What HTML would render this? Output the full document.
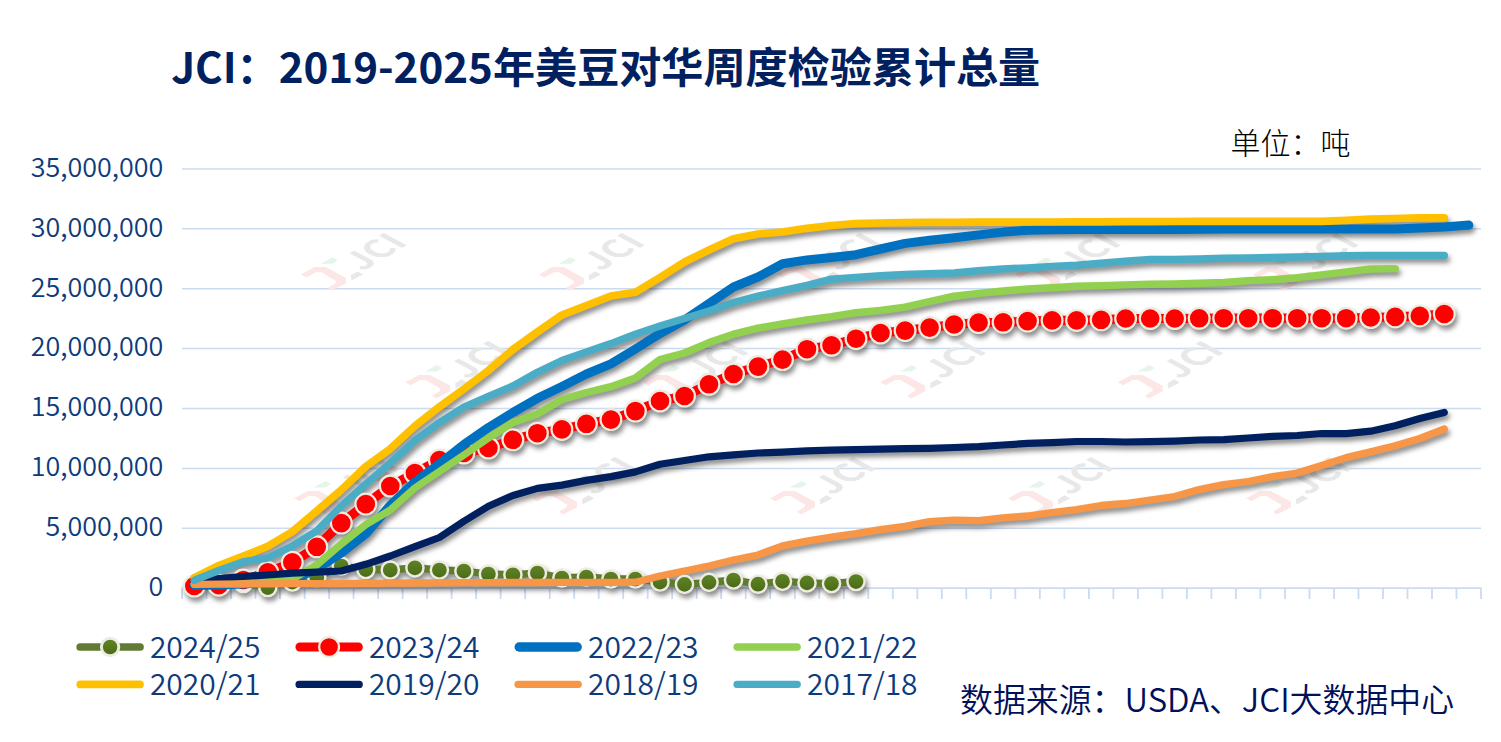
<!DOCTYPE html>
<html><head><meta charset="utf-8"><title>JCI：2019-2025年美豆对华周度检验累计总量</title>
<style>
html,body{margin:0;padding:0;background:#fff;}
body{width:1501px;height:742px;overflow:hidden;position:relative;}
svg{position:absolute;left:0;top:0;display:block;}
.f{font-family:"Liberation Sans","Noto Sans CJK SC",sans-serif;}
.c{font-family:"Noto Sans CJK SC","Liberation Sans",sans-serif;}
</style></head><body>
<svg width="1501" height="742" viewBox="0 0 1501 742">
<defs>
<filter id="so" filterUnits="userSpaceOnUse" x="0" y="0" width="1501" height="742">
<feGaussianBlur in="SourceAlpha" stdDeviation="2.8"/>
<feOffset dx="1.5" dy="4" result="b"/>
<feFlood flood-color="#000" flood-opacity="0.45"/>
<feComposite in2="b" operator="in"/>
</filter>
<linearGradient id="og" x1="0" y1="0" x2="0" y2="1">
<stop offset="0" stop-color="#5f8526"/><stop offset="1" stop-color="#4a6a17"/>
</linearGradient>
</defs>
<rect width="1501" height="742" fill="#fff"/>

<line x1="182" y1="168.9" x2="1481" y2="168.9" stroke="#cbdbf0" stroke-width="1.5"/>
<line x1="182" y1="228.8" x2="1481" y2="228.8" stroke="#cbdbf0" stroke-width="1.5"/>
<line x1="182" y1="288.7" x2="1481" y2="288.7" stroke="#cbdbf0" stroke-width="1.5"/>
<line x1="182" y1="348.6" x2="1481" y2="348.6" stroke="#cbdbf0" stroke-width="1.5"/>
<line x1="182" y1="408.5" x2="1481" y2="408.5" stroke="#cbdbf0" stroke-width="1.5"/>
<line x1="182" y1="468.4" x2="1481" y2="468.4" stroke="#cbdbf0" stroke-width="1.5"/>
<line x1="182" y1="528.3" x2="1481" y2="528.3" stroke="#cbdbf0" stroke-width="1.5"/>
<line x1="182" y1="588.2" x2="1481.5" y2="588.2" stroke="#cbdbf0" stroke-width="1.8"/>
<path d="M182.0 588.2V599 M206.5 588.2V599 M231.0 588.2V599 M255.5 588.2V599 M280.0 588.2V599 M304.6 588.2V599 M329.1 588.2V599 M353.6 588.2V599 M378.1 588.2V599 M402.6 588.2V599 M427.1 588.2V599 M451.6 588.2V599 M476.1 588.2V599 M500.6 588.2V599 M525.1 588.2V599 M549.7 588.2V599 M574.2 588.2V599 M598.7 588.2V599 M623.2 588.2V599 M647.7 588.2V599 M672.2 588.2V599 M696.7 588.2V599 M721.2 588.2V599 M745.7 588.2V599 M770.2 588.2V599 M794.8 588.2V599 M819.3 588.2V599 M843.8 588.2V599 M868.3 588.2V599 M892.8 588.2V599 M917.3 588.2V599 M941.8 588.2V599 M966.3 588.2V599 M990.8 588.2V599 M1015.3 588.2V599 M1039.8 588.2V599 M1064.4 588.2V599 M1088.9 588.2V599 M1113.4 588.2V599 M1137.9 588.2V599 M1162.4 588.2V599 M1186.9 588.2V599 M1211.4 588.2V599 M1235.9 588.2V599 M1260.4 588.2V599 M1285.0 588.2V599 M1309.5 588.2V599 M1334.0 588.2V599 M1358.5 588.2V599 M1383.0 588.2V599 M1407.5 588.2V599 M1432.0 588.2V599 M1456.5 588.2V599 M1481.0 588.2V599" stroke="#cbdbf0" stroke-width="1.8" fill="none"/>
<g><polygon points="301.0,274.4 314.5,267.0 325.7,267.0 345.9,277.9 345.9,283.4 331.9,290.6 327.9,287.9 335.9,282.9 335.9,280.9 321.4,272.2 315.9,272.2 306.2,277.4" fill="#fde6e6"/><polygon points="320.7,263.7 332.4,257.2 337.9,260.2 332.4,263.7" fill="#e6f5ec"/><polygon points="350.9,275.3 357.4,271.4 363.1,274.5 351.3,280.6" fill="#e8e8e8"/><text transform="matrix(0.856,-0.516,0.88,0.47,362.6,271.6)" class="c" font-size="35" font-weight="bold" fill="#e8e8e8">JCI</text><polygon points="539.0,274.4 552.5,267.0 563.7,267.0 583.9,277.9 583.9,283.4 569.9,290.6 565.9,287.9 573.9,282.9 573.9,280.9 559.4,272.2 553.9,272.2 544.2,277.4" fill="#fde6e6"/><polygon points="558.7,263.7 570.4,257.2 575.9,260.2 570.4,263.7" fill="#e6f5ec"/><polygon points="588.9,275.3 595.4,271.4 601.1,274.5 589.3,280.6" fill="#e8e8e8"/><text transform="matrix(0.856,-0.516,0.88,0.47,600.6,271.6)" class="c" font-size="35" font-weight="bold" fill="#e8e8e8">JCI</text><polygon points="777.0,274.4 790.5,267.0 801.7,267.0 821.9,277.9 821.9,283.4 807.9,290.6 803.9,287.9 811.9,282.9 811.9,280.9 797.4,272.2 791.9,272.2 782.2,277.4" fill="#fde6e6"/><polygon points="796.7,263.7 808.4,257.2 813.9,260.2 808.4,263.7" fill="#e6f5ec"/><polygon points="826.9,275.3 833.4,271.4 839.1,274.5 827.3,280.6" fill="#e8e8e8"/><text transform="matrix(0.856,-0.516,0.88,0.47,838.6,271.6)" class="c" font-size="35" font-weight="bold" fill="#e8e8e8">JCI</text><polygon points="1015.0,274.4 1028.5,267.0 1039.7,267.0 1059.9,277.9 1059.9,283.4 1045.9,290.6 1041.9,287.9 1049.9,282.9 1049.9,280.9 1035.4,272.2 1029.9,272.2 1020.2,277.4" fill="#fde6e6"/><polygon points="1034.7,263.7 1046.4,257.2 1051.9,260.2 1046.4,263.7" fill="#e6f5ec"/><polygon points="1064.9,275.3 1071.4,271.4 1077.1,274.5 1065.3,280.6" fill="#e8e8e8"/><text transform="matrix(0.856,-0.516,0.88,0.47,1076.6,271.6)" class="c" font-size="35" font-weight="bold" fill="#e8e8e8">JCI</text><polygon points="1253.0,274.4 1266.5,267.0 1277.7,267.0 1297.9,277.9 1297.9,283.4 1283.9,290.6 1279.9,287.9 1287.9,282.9 1287.9,280.9 1273.4,272.2 1267.9,272.2 1258.2,277.4" fill="#fde6e6"/><polygon points="1272.7,263.7 1284.4,257.2 1289.9,260.2 1284.4,263.7" fill="#e6f5ec"/><polygon points="1302.9,275.3 1309.4,271.4 1315.1,274.5 1303.3,280.6" fill="#e8e8e8"/><text transform="matrix(0.856,-0.516,0.88,0.47,1314.6,271.6)" class="c" font-size="35" font-weight="bold" fill="#e8e8e8">JCI</text><polygon points="405.3,382.3 418.8,374.9 430.0,374.9 450.2,385.8 450.2,391.3 436.2,398.5 432.2,395.8 440.2,390.8 440.2,388.8 425.7,380.1 420.2,380.1 410.5,385.3" fill="#fde6e6"/><polygon points="425.0,371.6 436.7,365.1 442.2,368.1 436.7,371.6" fill="#e6f5ec"/><polygon points="455.2,383.2 461.7,379.3 467.4,382.4 455.6,388.5" fill="#e8e8e8"/><text transform="matrix(0.856,-0.516,0.88,0.47,466.9,379.5)" class="c" font-size="35" font-weight="bold" fill="#e8e8e8">JCI</text><polygon points="642.8,382.3 656.3,374.9 667.5,374.9 687.7,385.8 687.7,391.3 673.7,398.5 669.7,395.8 677.7,390.8 677.7,388.8 663.2,380.1 657.7,380.1 648.0,385.3" fill="#fde6e6"/><polygon points="662.5,371.6 674.2,365.1 679.7,368.1 674.2,371.6" fill="#e6f5ec"/><polygon points="692.7,383.2 699.2,379.3 704.9,382.4 693.1,388.5" fill="#e8e8e8"/><text transform="matrix(0.856,-0.516,0.88,0.47,704.4,379.5)" class="c" font-size="35" font-weight="bold" fill="#e8e8e8">JCI</text><polygon points="880.3,382.3 893.8,374.9 905.0,374.9 925.2,385.8 925.2,391.3 911.2,398.5 907.2,395.8 915.2,390.8 915.2,388.8 900.7,380.1 895.2,380.1 885.5,385.3" fill="#fde6e6"/><polygon points="900.0,371.6 911.7,365.1 917.2,368.1 911.7,371.6" fill="#e6f5ec"/><polygon points="930.2,383.2 936.7,379.3 942.4,382.4 930.6,388.5" fill="#e8e8e8"/><text transform="matrix(0.856,-0.516,0.88,0.47,941.9,379.5)" class="c" font-size="35" font-weight="bold" fill="#e8e8e8">JCI</text><polygon points="1117.8,382.3 1131.3,374.9 1142.5,374.9 1162.7,385.8 1162.7,391.3 1148.7,398.5 1144.7,395.8 1152.7,390.8 1152.7,388.8 1138.2,380.1 1132.7,380.1 1123.0,385.3" fill="#fde6e6"/><polygon points="1137.5,371.6 1149.2,365.1 1154.7,368.1 1149.2,371.6" fill="#e6f5ec"/><polygon points="1167.7,383.2 1174.2,379.3 1179.9,382.4 1168.1,388.5" fill="#e8e8e8"/><text transform="matrix(0.856,-0.516,0.88,0.47,1179.4,379.5)" class="c" font-size="35" font-weight="bold" fill="#e8e8e8">JCI</text><polygon points="294.1,498.3 307.6,490.9 318.8,490.9 339.0,501.8 339.0,507.3 325.0,514.5 321.0,511.8 329.0,506.8 329.0,504.8 314.5,496.1 309.0,496.1 299.3,501.3" fill="#fde6e6"/><polygon points="313.8,487.6 325.5,481.1 331.0,484.1 325.5,487.6" fill="#e6f5ec"/><polygon points="344.0,499.2 350.5,495.3 356.2,498.4 344.4,504.5" fill="#e8e8e8"/><text transform="matrix(0.856,-0.516,0.88,0.47,355.7,495.5)" class="c" font-size="35" font-weight="bold" fill="#e8e8e8">JCI</text><polygon points="532.1,498.3 545.6,490.9 556.8,490.9 577.0,501.8 577.0,507.3 563.0,514.5 559.0,511.8 567.0,506.8 567.0,504.8 552.5,496.1 547.0,496.1 537.3,501.3" fill="#fde6e6"/><polygon points="551.8,487.6 563.5,481.1 569.0,484.1 563.5,487.6" fill="#e6f5ec"/><polygon points="582.0,499.2 588.5,495.3 594.2,498.4 582.4,504.5" fill="#e8e8e8"/><text transform="matrix(0.856,-0.516,0.88,0.47,593.7,495.5)" class="c" font-size="35" font-weight="bold" fill="#e8e8e8">JCI</text><polygon points="770.1,498.3 783.6,490.9 794.8,490.9 815.0,501.8 815.0,507.3 801.0,514.5 797.0,511.8 805.0,506.8 805.0,504.8 790.5,496.1 785.0,496.1 775.3,501.3" fill="#fde6e6"/><polygon points="789.8,487.6 801.5,481.1 807.0,484.1 801.5,487.6" fill="#e6f5ec"/><polygon points="820.0,499.2 826.5,495.3 832.2,498.4 820.4,504.5" fill="#e8e8e8"/><text transform="matrix(0.856,-0.516,0.88,0.47,831.7,495.5)" class="c" font-size="35" font-weight="bold" fill="#e8e8e8">JCI</text><polygon points="1008.1,498.3 1021.6,490.9 1032.8,490.9 1053.0,501.8 1053.0,507.3 1039.0,514.5 1035.0,511.8 1043.0,506.8 1043.0,504.8 1028.5,496.1 1023.0,496.1 1013.3,501.3" fill="#fde6e6"/><polygon points="1027.8,487.6 1039.5,481.1 1045.0,484.1 1039.5,487.6" fill="#e6f5ec"/><polygon points="1058.0,499.2 1064.5,495.3 1070.2,498.4 1058.4,504.5" fill="#e8e8e8"/><text transform="matrix(0.856,-0.516,0.88,0.47,1069.7,495.5)" class="c" font-size="35" font-weight="bold" fill="#e8e8e8">JCI</text><polygon points="1246.1,498.3 1259.6,490.9 1270.8,490.9 1291.0,501.8 1291.0,507.3 1277.0,514.5 1273.0,511.8 1281.0,506.8 1281.0,504.8 1266.5,496.1 1261.0,496.1 1251.3,501.3" fill="#fde6e6"/><polygon points="1265.8,487.6 1277.5,481.1 1283.0,484.1 1277.5,487.6" fill="#e6f5ec"/><polygon points="1296.0,499.2 1302.5,495.3 1308.2,498.4 1296.4,504.5" fill="#e8e8e8"/><text transform="matrix(0.856,-0.516,0.88,0.47,1307.7,495.5)" class="c" font-size="35" font-weight="bold" fill="#e8e8e8">JCI</text></g>
<text x="163.3" y="176.7" text-anchor="end" class="c" font-size="26.9" font-weight="350" fill="#0e3b7c">35,000,000</text>
<text x="163.3" y="236.6" text-anchor="end" class="c" font-size="26.9" font-weight="350" fill="#0e3b7c">30,000,000</text>
<text x="163.3" y="296.5" text-anchor="end" class="c" font-size="26.9" font-weight="350" fill="#0e3b7c">25,000,000</text>
<text x="163.3" y="356.4" text-anchor="end" class="c" font-size="26.9" font-weight="350" fill="#0e3b7c">20,000,000</text>
<text x="163.3" y="416.3" text-anchor="end" class="c" font-size="26.9" font-weight="350" fill="#0e3b7c">15,000,000</text>
<text x="163.3" y="476.2" text-anchor="end" class="c" font-size="26.9" font-weight="350" fill="#0e3b7c">10,000,000</text>
<text x="163.3" y="536.1" text-anchor="end" class="c" font-size="26.9" font-weight="350" fill="#0e3b7c">5,000,000</text>
<text x="163.3" y="596.0" text-anchor="end" class="c" font-size="26.9" font-weight="350" fill="#0e3b7c">0</text>
<g filter="url(#so)"><polyline points="194.3,586.0 218.8,585.5 243.3,583.5 267.8,587.5 292.3,582.0 316.8,577.5 341.3,566.0 365.8,569.5 390.3,570.0 414.9,567.8 439.4,570.0 463.9,571.0 488.4,574.0 512.9,574.8 537.4,573.0 561.9,578.0 586.4,577.0 610.9,579.0 635.4,579.0 660.0,582.0 684.5,584.4 709.0,582.4 733.5,580.0 758.0,584.2 782.5,581.3 807.0,582.9 831.5,583.6 856.0,581.5" fill="none" stroke="#5f7b30" stroke-width="7.3" stroke-linecap="round" stroke-linejoin="round"/><circle cx="194.3" cy="586.0" r="8.6" fill="url(#og)" stroke="#eeece1" stroke-width="2.45"/><circle cx="218.8" cy="585.5" r="8.6" fill="url(#og)" stroke="#eeece1" stroke-width="2.45"/><circle cx="243.3" cy="583.5" r="8.6" fill="url(#og)" stroke="#eeece1" stroke-width="2.45"/><circle cx="267.8" cy="587.5" r="8.6" fill="url(#og)" stroke="#eeece1" stroke-width="2.45"/><circle cx="292.3" cy="582.0" r="8.6" fill="url(#og)" stroke="#eeece1" stroke-width="2.45"/><circle cx="316.8" cy="577.5" r="8.6" fill="url(#og)" stroke="#eeece1" stroke-width="2.45"/><circle cx="341.3" cy="566.0" r="8.6" fill="url(#og)" stroke="#eeece1" stroke-width="2.45"/><circle cx="365.8" cy="569.5" r="8.6" fill="url(#og)" stroke="#eeece1" stroke-width="2.45"/><circle cx="390.3" cy="570.0" r="8.6" fill="url(#og)" stroke="#eeece1" stroke-width="2.45"/><circle cx="414.9" cy="567.8" r="8.6" fill="url(#og)" stroke="#eeece1" stroke-width="2.45"/><circle cx="439.4" cy="570.0" r="8.6" fill="url(#og)" stroke="#eeece1" stroke-width="2.45"/><circle cx="463.9" cy="571.0" r="8.6" fill="url(#og)" stroke="#eeece1" stroke-width="2.45"/><circle cx="488.4" cy="574.0" r="8.6" fill="url(#og)" stroke="#eeece1" stroke-width="2.45"/><circle cx="512.9" cy="574.8" r="8.6" fill="url(#og)" stroke="#eeece1" stroke-width="2.45"/><circle cx="537.4" cy="573.0" r="8.6" fill="url(#og)" stroke="#eeece1" stroke-width="2.45"/><circle cx="561.9" cy="578.0" r="8.6" fill="url(#og)" stroke="#eeece1" stroke-width="2.45"/><circle cx="586.4" cy="577.0" r="8.6" fill="url(#og)" stroke="#eeece1" stroke-width="2.45"/><circle cx="610.9" cy="579.0" r="8.6" fill="url(#og)" stroke="#eeece1" stroke-width="2.45"/><circle cx="635.4" cy="579.0" r="8.6" fill="url(#og)" stroke="#eeece1" stroke-width="2.45"/><circle cx="660.0" cy="582.0" r="8.6" fill="url(#og)" stroke="#eeece1" stroke-width="2.45"/><circle cx="684.5" cy="584.4" r="8.6" fill="url(#og)" stroke="#eeece1" stroke-width="2.45"/><circle cx="709.0" cy="582.4" r="8.6" fill="url(#og)" stroke="#eeece1" stroke-width="2.45"/><circle cx="733.5" cy="580.0" r="8.6" fill="url(#og)" stroke="#eeece1" stroke-width="2.45"/><circle cx="758.0" cy="584.2" r="8.6" fill="url(#og)" stroke="#eeece1" stroke-width="2.45"/><circle cx="782.5" cy="581.3" r="8.6" fill="url(#og)" stroke="#eeece1" stroke-width="2.45"/><circle cx="807.0" cy="582.9" r="8.6" fill="url(#og)" stroke="#eeece1" stroke-width="2.45"/><circle cx="831.5" cy="583.6" r="8.6" fill="url(#og)" stroke="#eeece1" stroke-width="2.45"/><circle cx="856.0" cy="581.5" r="8.6" fill="url(#og)" stroke="#eeece1" stroke-width="2.45"/><polyline points="194.3,586.0 218.8,585.2 243.3,580.0 267.8,572.4 292.3,562.3 316.8,546.8 341.3,523.1 365.8,504.1 390.3,486.0 414.9,473.0 439.4,460.0 463.9,453.0 488.4,448.0 512.9,439.8 537.4,433.2 561.9,429.4 586.4,423.8 610.9,419.6 635.4,411.1 660.0,401.0 684.5,396.0 709.0,384.3 733.5,374.0 758.0,366.6 782.5,359.6 807.0,349.2 831.5,345.3 856.0,338.7 880.5,333.0 905.1,330.6 929.6,327.6 954.1,324.5 978.6,322.6 1003.1,322.3 1027.6,321.1 1052.1,320.4 1076.6,320.4 1101.1,319.8 1125.6,318.5 1150.2,318.5 1174.7,318.5 1199.2,318.3 1223.7,318.2 1248.2,318.2 1272.7,318.2 1297.2,318.2 1321.7,318.2 1346.2,318.2 1370.7,317.5 1395.2,316.9 1419.8,315.9 1444.3,314.0" fill="none" stroke="#ff0000" stroke-width="9.2" stroke-linecap="round" stroke-linejoin="round"/><circle cx="194.3" cy="586.0" r="10.4" fill="#ff0000" stroke="#eeece1" stroke-width="2.2"/><circle cx="218.8" cy="585.2" r="10.4" fill="#ff0000" stroke="#eeece1" stroke-width="2.2"/><circle cx="243.3" cy="580.0" r="10.4" fill="#ff0000" stroke="#eeece1" stroke-width="2.2"/><circle cx="267.8" cy="572.4" r="10.4" fill="#ff0000" stroke="#eeece1" stroke-width="2.2"/><circle cx="292.3" cy="562.3" r="10.4" fill="#ff0000" stroke="#eeece1" stroke-width="2.2"/><circle cx="316.8" cy="546.8" r="10.4" fill="#ff0000" stroke="#eeece1" stroke-width="2.2"/><circle cx="341.3" cy="523.1" r="10.4" fill="#ff0000" stroke="#eeece1" stroke-width="2.2"/><circle cx="365.8" cy="504.1" r="10.4" fill="#ff0000" stroke="#eeece1" stroke-width="2.2"/><circle cx="390.3" cy="486.0" r="10.4" fill="#ff0000" stroke="#eeece1" stroke-width="2.2"/><circle cx="414.9" cy="473.0" r="10.4" fill="#ff0000" stroke="#eeece1" stroke-width="2.2"/><circle cx="439.4" cy="460.0" r="10.4" fill="#ff0000" stroke="#eeece1" stroke-width="2.2"/><circle cx="463.9" cy="453.0" r="10.4" fill="#ff0000" stroke="#eeece1" stroke-width="2.2"/><circle cx="488.4" cy="448.0" r="10.4" fill="#ff0000" stroke="#eeece1" stroke-width="2.2"/><circle cx="512.9" cy="439.8" r="10.4" fill="#ff0000" stroke="#eeece1" stroke-width="2.2"/><circle cx="537.4" cy="433.2" r="10.4" fill="#ff0000" stroke="#eeece1" stroke-width="2.2"/><circle cx="561.9" cy="429.4" r="10.4" fill="#ff0000" stroke="#eeece1" stroke-width="2.2"/><circle cx="586.4" cy="423.8" r="10.4" fill="#ff0000" stroke="#eeece1" stroke-width="2.2"/><circle cx="610.9" cy="419.6" r="10.4" fill="#ff0000" stroke="#eeece1" stroke-width="2.2"/><circle cx="635.4" cy="411.1" r="10.4" fill="#ff0000" stroke="#eeece1" stroke-width="2.2"/><circle cx="660.0" cy="401.0" r="10.4" fill="#ff0000" stroke="#eeece1" stroke-width="2.2"/><circle cx="684.5" cy="396.0" r="10.4" fill="#ff0000" stroke="#eeece1" stroke-width="2.2"/><circle cx="709.0" cy="384.3" r="10.4" fill="#ff0000" stroke="#eeece1" stroke-width="2.2"/><circle cx="733.5" cy="374.0" r="10.4" fill="#ff0000" stroke="#eeece1" stroke-width="2.2"/><circle cx="758.0" cy="366.6" r="10.4" fill="#ff0000" stroke="#eeece1" stroke-width="2.2"/><circle cx="782.5" cy="359.6" r="10.4" fill="#ff0000" stroke="#eeece1" stroke-width="2.2"/><circle cx="807.0" cy="349.2" r="10.4" fill="#ff0000" stroke="#eeece1" stroke-width="2.2"/><circle cx="831.5" cy="345.3" r="10.4" fill="#ff0000" stroke="#eeece1" stroke-width="2.2"/><circle cx="856.0" cy="338.7" r="10.4" fill="#ff0000" stroke="#eeece1" stroke-width="2.2"/><circle cx="880.5" cy="333.0" r="10.4" fill="#ff0000" stroke="#eeece1" stroke-width="2.2"/><circle cx="905.1" cy="330.6" r="10.4" fill="#ff0000" stroke="#eeece1" stroke-width="2.2"/><circle cx="929.6" cy="327.6" r="10.4" fill="#ff0000" stroke="#eeece1" stroke-width="2.2"/><circle cx="954.1" cy="324.5" r="10.4" fill="#ff0000" stroke="#eeece1" stroke-width="2.2"/><circle cx="978.6" cy="322.6" r="10.4" fill="#ff0000" stroke="#eeece1" stroke-width="2.2"/><circle cx="1003.1" cy="322.3" r="10.4" fill="#ff0000" stroke="#eeece1" stroke-width="2.2"/><circle cx="1027.6" cy="321.1" r="10.4" fill="#ff0000" stroke="#eeece1" stroke-width="2.2"/><circle cx="1052.1" cy="320.4" r="10.4" fill="#ff0000" stroke="#eeece1" stroke-width="2.2"/><circle cx="1076.6" cy="320.4" r="10.4" fill="#ff0000" stroke="#eeece1" stroke-width="2.2"/><circle cx="1101.1" cy="319.8" r="10.4" fill="#ff0000" stroke="#eeece1" stroke-width="2.2"/><circle cx="1125.6" cy="318.5" r="10.4" fill="#ff0000" stroke="#eeece1" stroke-width="2.2"/><circle cx="1150.2" cy="318.5" r="10.4" fill="#ff0000" stroke="#eeece1" stroke-width="2.2"/><circle cx="1174.7" cy="318.5" r="10.4" fill="#ff0000" stroke="#eeece1" stroke-width="2.2"/><circle cx="1199.2" cy="318.3" r="10.4" fill="#ff0000" stroke="#eeece1" stroke-width="2.2"/><circle cx="1223.7" cy="318.2" r="10.4" fill="#ff0000" stroke="#eeece1" stroke-width="2.2"/><circle cx="1248.2" cy="318.2" r="10.4" fill="#ff0000" stroke="#eeece1" stroke-width="2.2"/><circle cx="1272.7" cy="318.2" r="10.4" fill="#ff0000" stroke="#eeece1" stroke-width="2.2"/><circle cx="1297.2" cy="318.2" r="10.4" fill="#ff0000" stroke="#eeece1" stroke-width="2.2"/><circle cx="1321.7" cy="318.2" r="10.4" fill="#ff0000" stroke="#eeece1" stroke-width="2.2"/><circle cx="1346.2" cy="318.2" r="10.4" fill="#ff0000" stroke="#eeece1" stroke-width="2.2"/><circle cx="1370.7" cy="317.5" r="10.4" fill="#ff0000" stroke="#eeece1" stroke-width="2.2"/><circle cx="1395.2" cy="316.9" r="10.4" fill="#ff0000" stroke="#eeece1" stroke-width="2.2"/><circle cx="1419.8" cy="315.9" r="10.4" fill="#ff0000" stroke="#eeece1" stroke-width="2.2"/><circle cx="1444.3" cy="314.0" r="10.4" fill="#ff0000" stroke="#eeece1" stroke-width="2.2"/><polyline points="194.3,585.5 218.8,585.0 243.3,584.0 267.8,582.5 292.3,580.4 316.8,568.7 341.3,553.0 365.8,533.8 390.3,505.2 414.9,482.0 439.4,463.8 463.9,444.5 488.4,427.5 512.9,412.5 537.4,398.3 561.9,386.5 586.4,374.0 610.9,363.8 635.4,349.0 660.0,333.5 684.5,320.0 709.0,303.5 733.5,287.0 758.0,277.0 782.5,263.8 807.0,259.9 831.5,257.5 856.0,254.7 880.5,249.0 905.1,243.4 929.6,240.3 954.1,237.7 978.6,234.9 1003.1,232.1 1027.6,230.2 1052.1,229.8 1076.6,229.6 1101.1,229.6 1125.6,229.6 1150.2,229.6 1174.7,229.6 1199.2,229.3 1223.7,229.0 1248.2,229.0 1272.7,229.0 1297.2,229.0 1321.7,229.0 1346.2,229.0 1370.7,229.0 1395.2,229.0 1419.8,228.0 1444.3,227.0 1468.8,225.1" fill="none" stroke="#0070c0" stroke-width="9.0" stroke-linecap="round" stroke-linejoin="round"/><polyline points="194.3,584.0 218.8,583.0 243.3,581.5 267.8,580.0 292.3,579.0 316.8,565.0 341.3,544.0 365.8,524.7 390.3,510.0 414.9,488.0 439.4,471.5 463.9,455.0 488.4,438.0 512.9,422.5 537.4,414.0 561.9,399.5 586.4,392.5 610.9,386.7 635.4,378.0 660.0,359.5 684.5,353.0 709.0,342.6 733.5,334.2 758.0,328.2 782.5,323.8 807.0,320.0 831.5,316.7 856.0,312.7 880.5,310.4 905.1,307.2 929.6,301.5 954.1,296.2 978.6,293.4 1003.1,291.0 1027.6,289.0 1052.1,287.7 1076.6,286.2 1101.1,285.8 1125.6,284.9 1150.2,284.3 1174.7,284.0 1199.2,283.3 1223.7,282.5 1248.2,280.6 1272.7,279.6 1297.2,277.7 1321.7,274.8 1346.2,271.9 1370.7,269.0 1395.2,268.6" fill="none" stroke="#92d050" stroke-width="7.4" stroke-linecap="round" stroke-linejoin="round"/><polyline points="194.3,577.6 218.8,565.5 243.3,556.2 267.8,546.3 292.3,531.8 316.8,511.0 341.3,490.0 365.8,466.5 390.3,448.8 414.9,426.0 439.4,406.8 463.9,389.0 488.4,370.5 512.9,349.5 537.4,332.0 561.9,315.0 586.4,305.5 610.9,296.0 635.4,292.3 660.0,277.5 684.5,262.0 709.0,250.0 733.5,238.7 758.0,234.0 782.5,232.0 807.0,228.3 831.5,225.5 856.0,223.6 880.5,223.0 905.1,222.6 929.6,222.4 954.1,222.3 978.6,222.2 1003.1,222.1 1027.6,222.0 1052.1,222.0 1076.6,221.9 1101.1,221.8 1125.6,221.7 1150.2,221.6 1174.7,221.5 1199.2,221.4 1223.7,221.3 1248.2,221.3 1272.7,221.3 1297.2,221.3 1321.7,221.3 1346.2,220.3 1370.7,219.1 1395.2,218.5 1419.8,217.8 1444.3,217.8" fill="none" stroke="#ffc000" stroke-width="7.7" stroke-linecap="round" stroke-linejoin="round"/><polyline points="194.3,581.5 218.8,578.7 243.3,576.5 267.8,575.0 292.3,573.2 316.8,572.2 341.3,571.0 365.8,564.3 390.3,556.0 414.9,546.6 439.4,537.5 463.9,521.3 488.4,506.3 512.9,495.5 537.4,488.4 561.9,485.1 586.4,480.4 610.9,476.6 635.4,471.9 660.0,464.3 684.5,460.5 709.0,456.8 733.5,454.9 758.0,453.0 782.5,452.1 807.0,450.8 831.5,450.2 856.0,449.6 880.5,449.1 905.1,448.6 929.6,448.3 954.1,447.5 978.6,446.7 1003.1,445.0 1027.6,443.4 1052.1,442.6 1076.6,441.5 1101.1,441.5 1125.6,442.0 1150.2,441.7 1174.7,441.1 1199.2,440.0 1223.7,439.6 1248.2,438.0 1272.7,436.4 1297.2,435.5 1321.7,433.5 1346.2,433.7 1370.7,431.2 1395.2,425.8 1419.8,418.5 1444.3,412.4" fill="none" stroke="#002060" stroke-width="7.2" stroke-linecap="round" stroke-linejoin="round"/><polyline points="194.3,584.3 218.8,584.2 243.3,584.0 267.8,583.9 292.3,583.7 316.8,583.6 341.3,583.5 365.8,583.3 390.3,583.2 414.9,583.0 439.4,582.9 463.9,582.7 488.4,582.6 512.9,582.5 537.4,582.5 561.9,582.4 586.4,582.3 610.9,582.3 635.4,582.2 660.0,576.0 684.5,571.0 709.0,566.0 733.5,560.0 758.0,555.0 782.5,545.8 807.0,541.1 831.5,537.1 856.0,533.7 880.5,529.6 905.1,526.3 929.6,521.7 954.1,520.2 978.6,520.6 1003.1,517.8 1027.6,516.0 1052.1,512.5 1076.6,509.5 1101.1,505.5 1125.6,503.5 1150.2,500.0 1174.7,496.5 1199.2,489.6 1223.7,484.7 1248.2,481.5 1272.7,476.6 1297.2,473.0 1321.7,465.5 1346.2,457.6 1370.7,451.9 1395.2,445.8 1419.8,438.5 1444.3,429.0" fill="none" stroke="#f79646" stroke-width="7.3" stroke-linecap="round" stroke-linejoin="round"/><polyline points="194.3,580.3 218.8,570.5 243.3,561.7 267.8,558.0 292.3,546.0 316.8,530.8 341.3,506.0 365.8,484.0 390.3,463.0 414.9,440.5 439.4,422.6 463.9,407.2 488.4,396.4 512.9,386.0 537.4,372.3 561.9,360.5 586.4,352.0 610.9,343.6 635.4,334.2 660.0,326.0 684.5,318.5 709.0,311.0 733.5,302.5 758.0,296.2 782.5,290.6 807.0,285.4 831.5,279.2 856.0,277.4 880.5,275.8 905.1,274.5 929.6,273.8 954.1,273.0 978.6,270.8 1003.1,268.9 1027.6,267.9 1052.1,266.4 1076.6,265.1 1101.1,263.2 1125.6,261.3 1150.2,259.4 1174.7,259.4 1199.2,259.0 1223.7,258.3 1248.2,258.0 1272.7,257.5 1297.2,257.0 1321.7,256.5 1346.2,255.8 1370.7,255.4 1395.2,255.4 1419.8,255.4 1444.3,255.4" fill="none" stroke="#4bacc6" stroke-width="7.4" stroke-linecap="round" stroke-linejoin="round"/></g>
<g><polyline points="194.3,586.0 218.8,585.5 243.3,583.5 267.8,587.5 292.3,582.0 316.8,577.5 341.3,566.0 365.8,569.5 390.3,570.0 414.9,567.8 439.4,570.0 463.9,571.0 488.4,574.0 512.9,574.8 537.4,573.0 561.9,578.0 586.4,577.0 610.9,579.0 635.4,579.0 660.0,582.0 684.5,584.4 709.0,582.4 733.5,580.0 758.0,584.2 782.5,581.3 807.0,582.9 831.5,583.6 856.0,581.5" fill="none" stroke="#5f7b30" stroke-width="7.3" stroke-linecap="round" stroke-linejoin="round"/><circle cx="194.3" cy="586.0" r="8.6" fill="url(#og)" stroke="#eeece1" stroke-width="2.45"/><circle cx="218.8" cy="585.5" r="8.6" fill="url(#og)" stroke="#eeece1" stroke-width="2.45"/><circle cx="243.3" cy="583.5" r="8.6" fill="url(#og)" stroke="#eeece1" stroke-width="2.45"/><circle cx="267.8" cy="587.5" r="8.6" fill="url(#og)" stroke="#eeece1" stroke-width="2.45"/><circle cx="292.3" cy="582.0" r="8.6" fill="url(#og)" stroke="#eeece1" stroke-width="2.45"/><circle cx="316.8" cy="577.5" r="8.6" fill="url(#og)" stroke="#eeece1" stroke-width="2.45"/><circle cx="341.3" cy="566.0" r="8.6" fill="url(#og)" stroke="#eeece1" stroke-width="2.45"/><circle cx="365.8" cy="569.5" r="8.6" fill="url(#og)" stroke="#eeece1" stroke-width="2.45"/><circle cx="390.3" cy="570.0" r="8.6" fill="url(#og)" stroke="#eeece1" stroke-width="2.45"/><circle cx="414.9" cy="567.8" r="8.6" fill="url(#og)" stroke="#eeece1" stroke-width="2.45"/><circle cx="439.4" cy="570.0" r="8.6" fill="url(#og)" stroke="#eeece1" stroke-width="2.45"/><circle cx="463.9" cy="571.0" r="8.6" fill="url(#og)" stroke="#eeece1" stroke-width="2.45"/><circle cx="488.4" cy="574.0" r="8.6" fill="url(#og)" stroke="#eeece1" stroke-width="2.45"/><circle cx="512.9" cy="574.8" r="8.6" fill="url(#og)" stroke="#eeece1" stroke-width="2.45"/><circle cx="537.4" cy="573.0" r="8.6" fill="url(#og)" stroke="#eeece1" stroke-width="2.45"/><circle cx="561.9" cy="578.0" r="8.6" fill="url(#og)" stroke="#eeece1" stroke-width="2.45"/><circle cx="586.4" cy="577.0" r="8.6" fill="url(#og)" stroke="#eeece1" stroke-width="2.45"/><circle cx="610.9" cy="579.0" r="8.6" fill="url(#og)" stroke="#eeece1" stroke-width="2.45"/><circle cx="635.4" cy="579.0" r="8.6" fill="url(#og)" stroke="#eeece1" stroke-width="2.45"/><circle cx="660.0" cy="582.0" r="8.6" fill="url(#og)" stroke="#eeece1" stroke-width="2.45"/><circle cx="684.5" cy="584.4" r="8.6" fill="url(#og)" stroke="#eeece1" stroke-width="2.45"/><circle cx="709.0" cy="582.4" r="8.6" fill="url(#og)" stroke="#eeece1" stroke-width="2.45"/><circle cx="733.5" cy="580.0" r="8.6" fill="url(#og)" stroke="#eeece1" stroke-width="2.45"/><circle cx="758.0" cy="584.2" r="8.6" fill="url(#og)" stroke="#eeece1" stroke-width="2.45"/><circle cx="782.5" cy="581.3" r="8.6" fill="url(#og)" stroke="#eeece1" stroke-width="2.45"/><circle cx="807.0" cy="582.9" r="8.6" fill="url(#og)" stroke="#eeece1" stroke-width="2.45"/><circle cx="831.5" cy="583.6" r="8.6" fill="url(#og)" stroke="#eeece1" stroke-width="2.45"/><circle cx="856.0" cy="581.5" r="8.6" fill="url(#og)" stroke="#eeece1" stroke-width="2.45"/><polyline points="194.3,586.0 218.8,585.2 243.3,580.0 267.8,572.4 292.3,562.3 316.8,546.8 341.3,523.1 365.8,504.1 390.3,486.0 414.9,473.0 439.4,460.0 463.9,453.0 488.4,448.0 512.9,439.8 537.4,433.2 561.9,429.4 586.4,423.8 610.9,419.6 635.4,411.1 660.0,401.0 684.5,396.0 709.0,384.3 733.5,374.0 758.0,366.6 782.5,359.6 807.0,349.2 831.5,345.3 856.0,338.7 880.5,333.0 905.1,330.6 929.6,327.6 954.1,324.5 978.6,322.6 1003.1,322.3 1027.6,321.1 1052.1,320.4 1076.6,320.4 1101.1,319.8 1125.6,318.5 1150.2,318.5 1174.7,318.5 1199.2,318.3 1223.7,318.2 1248.2,318.2 1272.7,318.2 1297.2,318.2 1321.7,318.2 1346.2,318.2 1370.7,317.5 1395.2,316.9 1419.8,315.9 1444.3,314.0" fill="none" stroke="#ff0000" stroke-width="9.2" stroke-linecap="round" stroke-linejoin="round"/><circle cx="194.3" cy="586.0" r="10.4" fill="#ff0000" stroke="#eeece1" stroke-width="2.2"/><circle cx="218.8" cy="585.2" r="10.4" fill="#ff0000" stroke="#eeece1" stroke-width="2.2"/><circle cx="243.3" cy="580.0" r="10.4" fill="#ff0000" stroke="#eeece1" stroke-width="2.2"/><circle cx="267.8" cy="572.4" r="10.4" fill="#ff0000" stroke="#eeece1" stroke-width="2.2"/><circle cx="292.3" cy="562.3" r="10.4" fill="#ff0000" stroke="#eeece1" stroke-width="2.2"/><circle cx="316.8" cy="546.8" r="10.4" fill="#ff0000" stroke="#eeece1" stroke-width="2.2"/><circle cx="341.3" cy="523.1" r="10.4" fill="#ff0000" stroke="#eeece1" stroke-width="2.2"/><circle cx="365.8" cy="504.1" r="10.4" fill="#ff0000" stroke="#eeece1" stroke-width="2.2"/><circle cx="390.3" cy="486.0" r="10.4" fill="#ff0000" stroke="#eeece1" stroke-width="2.2"/><circle cx="414.9" cy="473.0" r="10.4" fill="#ff0000" stroke="#eeece1" stroke-width="2.2"/><circle cx="439.4" cy="460.0" r="10.4" fill="#ff0000" stroke="#eeece1" stroke-width="2.2"/><circle cx="463.9" cy="453.0" r="10.4" fill="#ff0000" stroke="#eeece1" stroke-width="2.2"/><circle cx="488.4" cy="448.0" r="10.4" fill="#ff0000" stroke="#eeece1" stroke-width="2.2"/><circle cx="512.9" cy="439.8" r="10.4" fill="#ff0000" stroke="#eeece1" stroke-width="2.2"/><circle cx="537.4" cy="433.2" r="10.4" fill="#ff0000" stroke="#eeece1" stroke-width="2.2"/><circle cx="561.9" cy="429.4" r="10.4" fill="#ff0000" stroke="#eeece1" stroke-width="2.2"/><circle cx="586.4" cy="423.8" r="10.4" fill="#ff0000" stroke="#eeece1" stroke-width="2.2"/><circle cx="610.9" cy="419.6" r="10.4" fill="#ff0000" stroke="#eeece1" stroke-width="2.2"/><circle cx="635.4" cy="411.1" r="10.4" fill="#ff0000" stroke="#eeece1" stroke-width="2.2"/><circle cx="660.0" cy="401.0" r="10.4" fill="#ff0000" stroke="#eeece1" stroke-width="2.2"/><circle cx="684.5" cy="396.0" r="10.4" fill="#ff0000" stroke="#eeece1" stroke-width="2.2"/><circle cx="709.0" cy="384.3" r="10.4" fill="#ff0000" stroke="#eeece1" stroke-width="2.2"/><circle cx="733.5" cy="374.0" r="10.4" fill="#ff0000" stroke="#eeece1" stroke-width="2.2"/><circle cx="758.0" cy="366.6" r="10.4" fill="#ff0000" stroke="#eeece1" stroke-width="2.2"/><circle cx="782.5" cy="359.6" r="10.4" fill="#ff0000" stroke="#eeece1" stroke-width="2.2"/><circle cx="807.0" cy="349.2" r="10.4" fill="#ff0000" stroke="#eeece1" stroke-width="2.2"/><circle cx="831.5" cy="345.3" r="10.4" fill="#ff0000" stroke="#eeece1" stroke-width="2.2"/><circle cx="856.0" cy="338.7" r="10.4" fill="#ff0000" stroke="#eeece1" stroke-width="2.2"/><circle cx="880.5" cy="333.0" r="10.4" fill="#ff0000" stroke="#eeece1" stroke-width="2.2"/><circle cx="905.1" cy="330.6" r="10.4" fill="#ff0000" stroke="#eeece1" stroke-width="2.2"/><circle cx="929.6" cy="327.6" r="10.4" fill="#ff0000" stroke="#eeece1" stroke-width="2.2"/><circle cx="954.1" cy="324.5" r="10.4" fill="#ff0000" stroke="#eeece1" stroke-width="2.2"/><circle cx="978.6" cy="322.6" r="10.4" fill="#ff0000" stroke="#eeece1" stroke-width="2.2"/><circle cx="1003.1" cy="322.3" r="10.4" fill="#ff0000" stroke="#eeece1" stroke-width="2.2"/><circle cx="1027.6" cy="321.1" r="10.4" fill="#ff0000" stroke="#eeece1" stroke-width="2.2"/><circle cx="1052.1" cy="320.4" r="10.4" fill="#ff0000" stroke="#eeece1" stroke-width="2.2"/><circle cx="1076.6" cy="320.4" r="10.4" fill="#ff0000" stroke="#eeece1" stroke-width="2.2"/><circle cx="1101.1" cy="319.8" r="10.4" fill="#ff0000" stroke="#eeece1" stroke-width="2.2"/><circle cx="1125.6" cy="318.5" r="10.4" fill="#ff0000" stroke="#eeece1" stroke-width="2.2"/><circle cx="1150.2" cy="318.5" r="10.4" fill="#ff0000" stroke="#eeece1" stroke-width="2.2"/><circle cx="1174.7" cy="318.5" r="10.4" fill="#ff0000" stroke="#eeece1" stroke-width="2.2"/><circle cx="1199.2" cy="318.3" r="10.4" fill="#ff0000" stroke="#eeece1" stroke-width="2.2"/><circle cx="1223.7" cy="318.2" r="10.4" fill="#ff0000" stroke="#eeece1" stroke-width="2.2"/><circle cx="1248.2" cy="318.2" r="10.4" fill="#ff0000" stroke="#eeece1" stroke-width="2.2"/><circle cx="1272.7" cy="318.2" r="10.4" fill="#ff0000" stroke="#eeece1" stroke-width="2.2"/><circle cx="1297.2" cy="318.2" r="10.4" fill="#ff0000" stroke="#eeece1" stroke-width="2.2"/><circle cx="1321.7" cy="318.2" r="10.4" fill="#ff0000" stroke="#eeece1" stroke-width="2.2"/><circle cx="1346.2" cy="318.2" r="10.4" fill="#ff0000" stroke="#eeece1" stroke-width="2.2"/><circle cx="1370.7" cy="317.5" r="10.4" fill="#ff0000" stroke="#eeece1" stroke-width="2.2"/><circle cx="1395.2" cy="316.9" r="10.4" fill="#ff0000" stroke="#eeece1" stroke-width="2.2"/><circle cx="1419.8" cy="315.9" r="10.4" fill="#ff0000" stroke="#eeece1" stroke-width="2.2"/><circle cx="1444.3" cy="314.0" r="10.4" fill="#ff0000" stroke="#eeece1" stroke-width="2.2"/><polyline points="194.3,585.5 218.8,585.0 243.3,584.0 267.8,582.5 292.3,580.4 316.8,568.7 341.3,553.0 365.8,533.8 390.3,505.2 414.9,482.0 439.4,463.8 463.9,444.5 488.4,427.5 512.9,412.5 537.4,398.3 561.9,386.5 586.4,374.0 610.9,363.8 635.4,349.0 660.0,333.5 684.5,320.0 709.0,303.5 733.5,287.0 758.0,277.0 782.5,263.8 807.0,259.9 831.5,257.5 856.0,254.7 880.5,249.0 905.1,243.4 929.6,240.3 954.1,237.7 978.6,234.9 1003.1,232.1 1027.6,230.2 1052.1,229.8 1076.6,229.6 1101.1,229.6 1125.6,229.6 1150.2,229.6 1174.7,229.6 1199.2,229.3 1223.7,229.0 1248.2,229.0 1272.7,229.0 1297.2,229.0 1321.7,229.0 1346.2,229.0 1370.7,229.0 1395.2,229.0 1419.8,228.0 1444.3,227.0 1468.8,225.1" fill="none" stroke="#0070c0" stroke-width="9.0" stroke-linecap="round" stroke-linejoin="round"/><polyline points="194.3,584.0 218.8,583.0 243.3,581.5 267.8,580.0 292.3,579.0 316.8,565.0 341.3,544.0 365.8,524.7 390.3,510.0 414.9,488.0 439.4,471.5 463.9,455.0 488.4,438.0 512.9,422.5 537.4,414.0 561.9,399.5 586.4,392.5 610.9,386.7 635.4,378.0 660.0,359.5 684.5,353.0 709.0,342.6 733.5,334.2 758.0,328.2 782.5,323.8 807.0,320.0 831.5,316.7 856.0,312.7 880.5,310.4 905.1,307.2 929.6,301.5 954.1,296.2 978.6,293.4 1003.1,291.0 1027.6,289.0 1052.1,287.7 1076.6,286.2 1101.1,285.8 1125.6,284.9 1150.2,284.3 1174.7,284.0 1199.2,283.3 1223.7,282.5 1248.2,280.6 1272.7,279.6 1297.2,277.7 1321.7,274.8 1346.2,271.9 1370.7,269.0 1395.2,268.6" fill="none" stroke="#92d050" stroke-width="7.4" stroke-linecap="round" stroke-linejoin="round"/><polyline points="194.3,577.6 218.8,565.5 243.3,556.2 267.8,546.3 292.3,531.8 316.8,511.0 341.3,490.0 365.8,466.5 390.3,448.8 414.9,426.0 439.4,406.8 463.9,389.0 488.4,370.5 512.9,349.5 537.4,332.0 561.9,315.0 586.4,305.5 610.9,296.0 635.4,292.3 660.0,277.5 684.5,262.0 709.0,250.0 733.5,238.7 758.0,234.0 782.5,232.0 807.0,228.3 831.5,225.5 856.0,223.6 880.5,223.0 905.1,222.6 929.6,222.4 954.1,222.3 978.6,222.2 1003.1,222.1 1027.6,222.0 1052.1,222.0 1076.6,221.9 1101.1,221.8 1125.6,221.7 1150.2,221.6 1174.7,221.5 1199.2,221.4 1223.7,221.3 1248.2,221.3 1272.7,221.3 1297.2,221.3 1321.7,221.3 1346.2,220.3 1370.7,219.1 1395.2,218.5 1419.8,217.8 1444.3,217.8" fill="none" stroke="#ffc000" stroke-width="7.7" stroke-linecap="round" stroke-linejoin="round"/><polyline points="194.3,581.5 218.8,578.7 243.3,576.5 267.8,575.0 292.3,573.2 316.8,572.2 341.3,571.0 365.8,564.3 390.3,556.0 414.9,546.6 439.4,537.5 463.9,521.3 488.4,506.3 512.9,495.5 537.4,488.4 561.9,485.1 586.4,480.4 610.9,476.6 635.4,471.9 660.0,464.3 684.5,460.5 709.0,456.8 733.5,454.9 758.0,453.0 782.5,452.1 807.0,450.8 831.5,450.2 856.0,449.6 880.5,449.1 905.1,448.6 929.6,448.3 954.1,447.5 978.6,446.7 1003.1,445.0 1027.6,443.4 1052.1,442.6 1076.6,441.5 1101.1,441.5 1125.6,442.0 1150.2,441.7 1174.7,441.1 1199.2,440.0 1223.7,439.6 1248.2,438.0 1272.7,436.4 1297.2,435.5 1321.7,433.5 1346.2,433.7 1370.7,431.2 1395.2,425.8 1419.8,418.5 1444.3,412.4" fill="none" stroke="#002060" stroke-width="7.2" stroke-linecap="round" stroke-linejoin="round"/><polyline points="194.3,584.3 218.8,584.2 243.3,584.0 267.8,583.9 292.3,583.7 316.8,583.6 341.3,583.5 365.8,583.3 390.3,583.2 414.9,583.0 439.4,582.9 463.9,582.7 488.4,582.6 512.9,582.5 537.4,582.5 561.9,582.4 586.4,582.3 610.9,582.3 635.4,582.2 660.0,576.0 684.5,571.0 709.0,566.0 733.5,560.0 758.0,555.0 782.5,545.8 807.0,541.1 831.5,537.1 856.0,533.7 880.5,529.6 905.1,526.3 929.6,521.7 954.1,520.2 978.6,520.6 1003.1,517.8 1027.6,516.0 1052.1,512.5 1076.6,509.5 1101.1,505.5 1125.6,503.5 1150.2,500.0 1174.7,496.5 1199.2,489.6 1223.7,484.7 1248.2,481.5 1272.7,476.6 1297.2,473.0 1321.7,465.5 1346.2,457.6 1370.7,451.9 1395.2,445.8 1419.8,438.5 1444.3,429.0" fill="none" stroke="#f79646" stroke-width="7.3" stroke-linecap="round" stroke-linejoin="round"/><polyline points="194.3,580.3 218.8,570.5 243.3,561.7 267.8,558.0 292.3,546.0 316.8,530.8 341.3,506.0 365.8,484.0 390.3,463.0 414.9,440.5 439.4,422.6 463.9,407.2 488.4,396.4 512.9,386.0 537.4,372.3 561.9,360.5 586.4,352.0 610.9,343.6 635.4,334.2 660.0,326.0 684.5,318.5 709.0,311.0 733.5,302.5 758.0,296.2 782.5,290.6 807.0,285.4 831.5,279.2 856.0,277.4 880.5,275.8 905.1,274.5 929.6,273.8 954.1,273.0 978.6,270.8 1003.1,268.9 1027.6,267.9 1052.1,266.4 1076.6,265.1 1101.1,263.2 1125.6,261.3 1150.2,259.4 1174.7,259.4 1199.2,259.0 1223.7,258.3 1248.2,258.0 1272.7,257.5 1297.2,257.0 1321.7,256.5 1346.2,255.8 1370.7,255.4 1395.2,255.4 1419.8,255.4 1444.3,255.4" fill="none" stroke="#4bacc6" stroke-width="7.4" stroke-linecap="round" stroke-linejoin="round"/></g>
<text x="171.2" y="82.8" class="c" font-size="42.1" font-weight="bold" fill="#002060">JCI：2019-2025年美豆对华周度检验累计总量</text>
<text x="1230.5" y="154" class="c" font-size="30" font-weight="300" fill="#000">单位：吨</text>
<line x1="80.2" y1="647.0" x2="140.0" y2="647.0" stroke="#627b34" stroke-width="7.7" stroke-linecap="round"/>
<circle cx="110.1" cy="647.0" r="8.7" fill="url(#og)" stroke="#eeece1" stroke-width="2.9"/>
<text x="149.9" y="657.9" class="c" font-size="30" font-weight="350" fill="#0e3b7c">2024/25</text>
<line x1="300.0" y1="647.0" x2="358.3" y2="647.0" stroke="#ff0000" stroke-width="9.1" stroke-linecap="round"/>
<circle cx="329.1" cy="647.0" r="9.9" fill="#ff0000" stroke="#eeece1" stroke-width="2.2"/>
<text x="368.9" y="657.9" class="c" font-size="30" font-weight="350" fill="#0e3b7c">2023/24</text>
<line x1="519.2" y1="647.0" x2="577.2" y2="647.0" stroke="#0070c0" stroke-width="9.4" stroke-linecap="round"/>
<text x="588.0" y="657.9" class="c" font-size="30" font-weight="350" fill="#0e3b7c">2022/23</text>
<line x1="737.2" y1="647.0" x2="797.1" y2="647.0" stroke="#92d050" stroke-width="7.5" stroke-linecap="round"/>
<text x="807.0" y="657.9" class="c" font-size="30" font-weight="350" fill="#0e3b7c">2021/22</text>
<line x1="80.4" y1="684.4" x2="139.9" y2="684.4" stroke="#ffc000" stroke-width="7.9" stroke-linecap="round"/>
<text x="149.9" y="694.5" class="c" font-size="30" font-weight="350" fill="#0e3b7c">2020/21</text>
<line x1="299.1" y1="684.4" x2="359.2" y2="684.4" stroke="#002060" stroke-width="7.3" stroke-linecap="round"/>
<text x="368.9" y="694.5" class="c" font-size="30" font-weight="350" fill="#0e3b7c">2019/20</text>
<line x1="518.0" y1="684.4" x2="578.3" y2="684.4" stroke="#f79646" stroke-width="7.1" stroke-linecap="round"/>
<text x="588.0" y="694.5" class="c" font-size="30" font-weight="350" fill="#0e3b7c">2018/19</text>
<line x1="737.0" y1="684.4" x2="797.3" y2="684.4" stroke="#4bacc6" stroke-width="7.1" stroke-linecap="round"/>
<text x="807.0" y="694.5" class="c" font-size="30" font-weight="350" fill="#0e3b7c">2017/18</text>
<text x="960" y="711.8" class="c" font-size="32.9" font-weight="350" fill="#00105a">数据来源：USDA、JCI大数据中心</text>
</svg></body></html>
